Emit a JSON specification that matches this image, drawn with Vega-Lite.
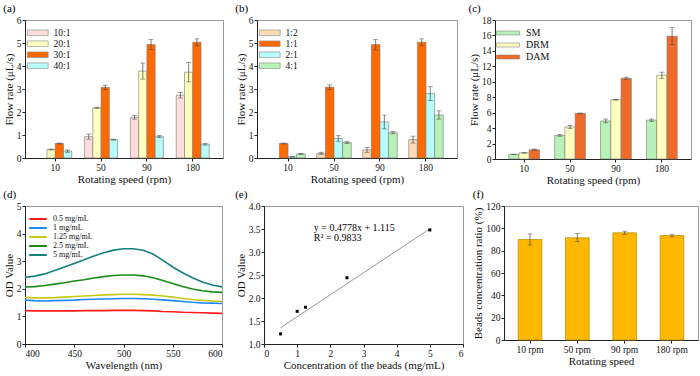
{
  "$schema": "https://vega.github.io/schema/vega-lite/v6.json",
  "padding": {"left": 2, "top": 2, "right": 2, "bottom": 1},
  "background": "white",
  "spacing": 2,
  "datasets": {
    "a": [
      {"speed": "10", "ratio": "20:1", "v": 0.37, "lo": 0.35, "hi": 0.39},
      {"speed": "10", "ratio": "30:1", "v": 0.63, "lo": 0.61, "hi": 0.65},
      {"speed": "10", "ratio": "40:1", "v": 0.30, "lo": 0.25, "hi": 0.35},
      {"speed": "50", "ratio": "10:1", "v": 0.93, "lo": 0.82, "hi": 1.04},
      {"speed": "50", "ratio": "20:1", "v": 2.18, "lo": 2.15, "hi": 2.21},
      {"speed": "50", "ratio": "30:1", "v": 3.07, "lo": 2.97, "hi": 3.17},
      {"speed": "50", "ratio": "40:1", "v": 0.80, "lo": 0.78, "hi": 0.82},
      {"speed": "90", "ratio": "10:1", "v": 1.77, "lo": 1.69, "hi": 1.85},
      {"speed": "90", "ratio": "20:1", "v": 3.78, "lo": 3.43, "hi": 4.13},
      {"speed": "90", "ratio": "30:1", "v": 4.93, "lo": 4.71, "hi": 5.15},
      {"speed": "90", "ratio": "40:1", "v": 0.93, "lo": 0.88, "hi": 0.98},
      {"speed": "180", "ratio": "10:1", "v": 2.73, "lo": 2.61, "hi": 2.85},
      {"speed": "180", "ratio": "20:1", "v": 3.73, "lo": 3.31, "hi": 4.15},
      {"speed": "180", "ratio": "30:1", "v": 5.03, "lo": 4.88, "hi": 5.18},
      {"speed": "180", "ratio": "40:1", "v": 0.60, "lo": 0.56, "hi": 0.64}
    ],
    "b": [
      {"speed": "10", "ratio": "1:1", "v": 0.63, "lo": 0.61, "hi": 0.65},
      {"speed": "10", "ratio": "2:1", "v": 0.05, "lo": 0.04, "hi": 0.06},
      {"speed": "10", "ratio": "4:1", "v": 0.18, "lo": 0.16, "hi": 0.20},
      {"speed": "50", "ratio": "1:2", "v": 0.20, "lo": 0.15, "hi": 0.25},
      {"speed": "50", "ratio": "1:1", "v": 3.08, "lo": 2.98, "hi": 3.18},
      {"speed": "50", "ratio": "2:1", "v": 0.85, "lo": 0.73, "hi": 0.97},
      {"speed": "50", "ratio": "4:1", "v": 0.67, "lo": 0.63, "hi": 0.71},
      {"speed": "90", "ratio": "1:2", "v": 0.35, "lo": 0.25, "hi": 0.45},
      {"speed": "90", "ratio": "1:1", "v": 4.93, "lo": 4.70, "hi": 5.16},
      {"speed": "90", "ratio": "2:1", "v": 1.57, "lo": 1.27, "hi": 1.87},
      {"speed": "90", "ratio": "4:1", "v": 1.10, "lo": 1.05, "hi": 1.15},
      {"speed": "180", "ratio": "1:2", "v": 0.80, "lo": 0.65, "hi": 0.95},
      {"speed": "180", "ratio": "1:1", "v": 5.03, "lo": 4.88, "hi": 5.18},
      {"speed": "180", "ratio": "2:1", "v": 2.80, "lo": 2.50, "hi": 3.10},
      {"speed": "180", "ratio": "4:1", "v": 1.87, "lo": 1.69, "hi": 2.05}
    ],
    "c": [
      {"speed": "10", "mode": "SM", "v": 0.60, "lo": 0.58, "hi": 0.62},
      {"speed": "10", "mode": "DRM", "v": 0.80, "lo": 0.75, "hi": 0.85},
      {"speed": "10", "mode": "DAM", "v": 1.20, "lo": 1.10, "hi": 1.30},
      {"speed": "50", "mode": "SM", "v": 3.05, "lo": 2.95, "hi": 3.15},
      {"speed": "50", "mode": "DRM", "v": 4.15, "lo": 3.95, "hi": 4.35},
      {"speed": "50", "mode": "DAM", "v": 5.90, "lo": 5.85, "hi": 5.95},
      {"speed": "90", "mode": "SM", "v": 4.93, "lo": 4.68, "hi": 5.18},
      {"speed": "90", "mode": "DRM", "v": 7.68, "lo": 7.63, "hi": 7.73},
      {"speed": "90", "mode": "DAM", "v": 10.45, "lo": 10.30, "hi": 10.60},
      {"speed": "180", "mode": "SM", "v": 5.03, "lo": 4.88, "hi": 5.18},
      {"speed": "180", "mode": "DRM", "v": 10.85, "lo": 10.45, "hi": 11.25},
      {"speed": "180", "mode": "DAM", "v": 15.90, "lo": 14.80, "hi": 17.00}
    ],
    "d": [
      {"w": 400, "c": "0.5 mg/mL", "od": 1.21}, {"w": 410, "c": "0.5 mg/mL", "od": 1.20}, {"w": 420, "c": "0.5 mg/mL", "od": 1.20}, {"w": 430, "c": "0.5 mg/mL", "od": 1.20}, {"w": 440, "c": "0.5 mg/mL", "od": 1.20}, {"w": 450, "c": "0.5 mg/mL", "od": 1.20}, {"w": 460, "c": "0.5 mg/mL", "od": 1.21}, {"w": 470, "c": "0.5 mg/mL", "od": 1.21}, {"w": 480, "c": "0.5 mg/mL", "od": 1.21}, {"w": 490, "c": "0.5 mg/mL", "od": 1.22}, {"w": 500, "c": "0.5 mg/mL", "od": 1.22}, {"w": 510, "c": "0.5 mg/mL", "od": 1.22}, {"w": 520, "c": "0.5 mg/mL", "od": 1.21}, {"w": 530, "c": "0.5 mg/mL", "od": 1.20}, {"w": 540, "c": "0.5 mg/mL", "od": 1.18}, {"w": 550, "c": "0.5 mg/mL", "od": 1.17}, {"w": 560, "c": "0.5 mg/mL", "od": 1.15}, {"w": 570, "c": "0.5 mg/mL", "od": 1.14}, {"w": 580, "c": "0.5 mg/mL", "od": 1.13}, {"w": 590, "c": "0.5 mg/mL", "od": 1.12}, {"w": 600, "c": "0.5 mg/mL", "od": 1.11},
      {"w": 400, "c": "1 mg/mL", "od": 1.59}, {"w": 410, "c": "1 mg/mL", "od": 1.57}, {"w": 420, "c": "1 mg/mL", "od": 1.56}, {"w": 430, "c": "1 mg/mL", "od": 1.57}, {"w": 440, "c": "1 mg/mL", "od": 1.58}, {"w": 450, "c": "1 mg/mL", "od": 1.59}, {"w": 460, "c": "1 mg/mL", "od": 1.61}, {"w": 470, "c": "1 mg/mL", "od": 1.62}, {"w": 480, "c": "1 mg/mL", "od": 1.63}, {"w": 490, "c": "1 mg/mL", "od": 1.64}, {"w": 500, "c": "1 mg/mL", "od": 1.65}, {"w": 510, "c": "1 mg/mL", "od": 1.65}, {"w": 520, "c": "1 mg/mL", "od": 1.64}, {"w": 530, "c": "1 mg/mL", "od": 1.62}, {"w": 540, "c": "1 mg/mL", "od": 1.60}, {"w": 550, "c": "1 mg/mL", "od": 1.57}, {"w": 560, "c": "1 mg/mL", "od": 1.54}, {"w": 570, "c": "1 mg/mL", "od": 1.51}, {"w": 580, "c": "1 mg/mL", "od": 1.49}, {"w": 590, "c": "1 mg/mL", "od": 1.48}, {"w": 600, "c": "1 mg/mL", "od": 1.47},
      {"w": 400, "c": "1.25 mg/mL", "od": 1.69}, {"w": 410, "c": "1.25 mg/mL", "od": 1.67}, {"w": 420, "c": "1.25 mg/mL", "od": 1.67}, {"w": 430, "c": "1.25 mg/mL", "od": 1.68}, {"w": 440, "c": "1.25 mg/mL", "od": 1.70}, {"w": 450, "c": "1.25 mg/mL", "od": 1.72}, {"w": 460, "c": "1.25 mg/mL", "od": 1.74}, {"w": 470, "c": "1.25 mg/mL", "od": 1.76}, {"w": 480, "c": "1.25 mg/mL", "od": 1.78}, {"w": 490, "c": "1.25 mg/mL", "od": 1.79}, {"w": 500, "c": "1.25 mg/mL", "od": 1.80}, {"w": 510, "c": "1.25 mg/mL", "od": 1.80}, {"w": 520, "c": "1.25 mg/mL", "od": 1.79}, {"w": 530, "c": "1.25 mg/mL", "od": 1.77}, {"w": 540, "c": "1.25 mg/mL", "od": 1.74}, {"w": 550, "c": "1.25 mg/mL", "od": 1.70}, {"w": 560, "c": "1.25 mg/mL", "od": 1.65}, {"w": 570, "c": "1.25 mg/mL", "od": 1.61}, {"w": 580, "c": "1.25 mg/mL", "od": 1.58}, {"w": 590, "c": "1.25 mg/mL", "od": 1.56}, {"w": 600, "c": "1.25 mg/mL", "od": 1.54},
      {"w": 400, "c": "2.5 mg/mL", "od": 2.07}, {"w": 410, "c": "2.5 mg/mL", "od": 2.08}, {"w": 420, "c": "2.5 mg/mL", "od": 2.12}, {"w": 430, "c": "2.5 mg/mL", "od": 2.17}, {"w": 440, "c": "2.5 mg/mL", "od": 2.22}, {"w": 450, "c": "2.5 mg/mL", "od": 2.28}, {"w": 460, "c": "2.5 mg/mL", "od": 2.33}, {"w": 470, "c": "2.5 mg/mL", "od": 2.39}, {"w": 480, "c": "2.5 mg/mL", "od": 2.44}, {"w": 490, "c": "2.5 mg/mL", "od": 2.48}, {"w": 500, "c": "2.5 mg/mL", "od": 2.50}, {"w": 510, "c": "2.5 mg/mL", "od": 2.50}, {"w": 520, "c": "2.5 mg/mL", "od": 2.47}, {"w": 530, "c": "2.5 mg/mL", "od": 2.40}, {"w": 540, "c": "2.5 mg/mL", "od": 2.30}, {"w": 550, "c": "2.5 mg/mL", "od": 2.19}, {"w": 560, "c": "2.5 mg/mL", "od": 2.08}, {"w": 570, "c": "2.5 mg/mL", "od": 1.99}, {"w": 580, "c": "2.5 mg/mL", "od": 1.93}, {"w": 590, "c": "2.5 mg/mL", "od": 1.89}, {"w": 600, "c": "2.5 mg/mL", "od": 1.87},
      {"w": 400, "c": "5 mg/mL", "od": 2.42}, {"w": 410, "c": "5 mg/mL", "od": 2.46}, {"w": 420, "c": "5 mg/mL", "od": 2.54}, {"w": 430, "c": "5 mg/mL", "od": 2.66}, {"w": 440, "c": "5 mg/mL", "od": 2.79}, {"w": 450, "c": "5 mg/mL", "od": 2.92}, {"w": 460, "c": "5 mg/mL", "od": 3.05}, {"w": 470, "c": "5 mg/mL", "od": 3.19}, {"w": 480, "c": "5 mg/mL", "od": 3.31}, {"w": 490, "c": "5 mg/mL", "od": 3.40}, {"w": 500, "c": "5 mg/mL", "od": 3.45}, {"w": 510, "c": "5 mg/mL", "od": 3.45}, {"w": 520, "c": "5 mg/mL", "od": 3.40}, {"w": 530, "c": "5 mg/mL", "od": 3.26}, {"w": 540, "c": "5 mg/mL", "od": 3.03}, {"w": 550, "c": "5 mg/mL", "od": 2.79}, {"w": 560, "c": "5 mg/mL", "od": 2.58}, {"w": 570, "c": "5 mg/mL", "od": 2.40}, {"w": 580, "c": "5 mg/mL", "od": 2.25}, {"w": 590, "c": "5 mg/mL", "od": 2.14}, {"w": 600, "c": "5 mg/mL", "od": 2.07}
    ],
    "e": [
      {"conc": 0.5, "od": 1.22}, {"conc": 1.0, "od": 1.71}, {"conc": 1.25, "od": 1.80}, {"conc": 2.5, "od": 2.44}, {"conc": 5.0, "od": 3.48}
    ],
    "efit": [
      {"conc": 0.5, "od": 1.354}, {"conc": 5.0, "od": 3.504}
    ],
    "etext": [
      {"conc": 1.5, "od": 3.53, "label": "y = 0.4778x + 1.115"},
      {"conc": 1.5, "od": 3.3, "label": "R² = 0.9833"}
    ],
    "f": [
      {"speed": "10 rpm", "v": 90.0, "lo": 85.0, "hi": 95.0},
      {"speed": "50 rpm", "v": 91.5, "lo": 88.0, "hi": 95.5},
      {"speed": "90 rpm", "v": 96.0, "lo": 94.5, "hi": 97.5},
      {"speed": "180 rpm", "v": 93.5, "lo": 92.3, "hi": 94.7}
    ]
  },
  "vconcat": [
    {
      "spacing": 10,
      "resolve": {"scale": {"x": "independent", "y": "independent", "xOffset": "independent", "color": "independent"}, "legend": {"color": "independent"}},
      "hconcat": [
        {
          "title": {"text": "(a)"},
          "width": 198, "height": 138,
          "data": {"name": "a"},
          "encoding": {
            "x": {"field": "speed", "type": "nominal", "sort": ["10", "50", "90", "180"], "title": "Rotating speed (rpm)", "scale": {"paddingInner": 0.28, "paddingOuter": 0.3}},
            "xOffset": {"field": "ratio", "type": "nominal", "sort": ["10:1", "20:1", "30:1", "40:1"], "scale": {"domain": ["10:1", "20:1", "30:1", "40:1"], "paddingInner": 0}}
          },
          "layer": [
            {"mark": {"type": "bar", "stroke": "#777", "strokeWidth": 0.6},
             "encoding": {
               "y": {"field": "v", "type": "quantitative", "title": "Flow rate (μL/s)", "scale": {"domain": [0, 6]}, "axis": {"values": [0, 1, 2, 3, 4, 5, 6], "labelOverlap": false}},
               "color": {"field": "ratio", "type": "nominal", "title": null, "scale": {"domain": ["10:1", "20:1", "30:1", "40:1"], "range": ["#FFDDDD", "#FFFFC0", "#FF6A00", "#B8FBFB"]},
                 "legend": {"orient": "top-left", "offset": 8, "symbolType": "M-2.6,-0.7H2.6V0.7H-2.6Z", "symbolSize": 64, "labelOffset": 11, "symbolStrokeColor": "#888", "symbolStrokeWidth": 0.6, "labelFontSize": 9.5, "rowPadding": 0}}
             }},
            {"mark": {"type": "rule", "color": "#444", "strokeWidth": 0.7},
             "encoding": {"y": {"field": "lo", "type": "quantitative", "title": "Flow rate (μL/s)", "axis": {"values": [0, 1, 2, 3, 4, 5, 6], "labelOverlap": false}}, "y2": {"field": "hi"}}},
            {"mark": {"type": "tick", "color": "#444", "thickness": 0.7, "size": 5},
             "encoding": {"y": {"field": "lo", "type": "quantitative", "title": "Flow rate (μL/s)", "axis": {"values": [0, 1, 2, 3, 4, 5, 6], "labelOverlap": false}}}},
            {"mark": {"type": "tick", "color": "#444", "thickness": 0.7, "size": 5},
             "encoding": {"y": {"field": "hi", "type": "quantitative", "title": "Flow rate (μL/s)", "axis": {"values": [0, 1, 2, 3, 4, 5, 6], "labelOverlap": false}}}}
          ]
        },
        {
          "title": {"text": "(b)"},
          "width": 200, "height": 138,
          "data": {"name": "b"},
          "encoding": {
            "x": {"field": "speed", "type": "nominal", "sort": ["10", "50", "90", "180"], "title": "Rotating speed (rpm)", "scale": {"paddingInner": 0.25, "paddingOuter": 0.3}},
            "xOffset": {"field": "ratio", "type": "nominal", "sort": ["1:2", "1:1", "2:1", "4:1"], "scale": {"domain": ["1:2", "1:1", "2:1", "4:1"], "paddingInner": 0}}
          },
          "layer": [
            {"mark": {"type": "bar", "stroke": "#777", "strokeWidth": 0.6},
             "encoding": {
               "y": {"field": "v", "type": "quantitative", "title": "Flow rate (μL/s)", "scale": {"domain": [0, 6]}, "axis": {"values": [0, 1, 2, 3, 4, 5, 6], "labelOverlap": false}},
               "color": {"field": "ratio", "type": "nominal", "title": null, "scale": {"domain": ["1:2", "1:1", "2:1", "4:1"], "range": ["#FDDCB5", "#FF6A00", "#B8FBFB", "#B8F2B8"]},
                 "legend": {"orient": "top-left", "offset": 8, "symbolType": "M-2.6,-0.7H2.6V0.7H-2.6Z", "symbolSize": 64, "labelOffset": 11, "symbolStrokeColor": "#888", "symbolStrokeWidth": 0.6, "labelFontSize": 9.5, "rowPadding": 0}}
             }},
            {"mark": {"type": "rule", "color": "#444", "strokeWidth": 0.7},
             "encoding": {"y": {"field": "lo", "type": "quantitative", "title": "Flow rate (μL/s)", "axis": {"values": [0, 1, 2, 3, 4, 5, 6], "labelOverlap": false}}, "y2": {"field": "hi"}}},
            {"mark": {"type": "tick", "color": "#444", "thickness": 0.7, "size": 5},
             "encoding": {"y": {"field": "lo", "type": "quantitative", "title": "Flow rate (μL/s)", "axis": {"values": [0, 1, 2, 3, 4, 5, 6], "labelOverlap": false}}}},
            {"mark": {"type": "tick", "color": "#444", "thickness": 0.7, "size": 5},
             "encoding": {"y": {"field": "hi", "type": "quantitative", "title": "Flow rate (μL/s)", "axis": {"values": [0, 1, 2, 3, 4, 5, 6], "labelOverlap": false}}}}
          ]
        },
        {
          "title": {"text": "(c)"},
          "width": 196, "height": 139,
          "data": {"name": "c"},
          "encoding": {
            "x": {"field": "speed", "type": "nominal", "sort": ["10", "50", "90", "180"], "title": "Rotating speed (rpm)", "scale": {"paddingInner": 0.33, "paddingOuter": 0.3}},
            "xOffset": {"field": "mode", "type": "nominal", "sort": ["SM", "DRM", "DAM"], "scale": {"domain": ["SM", "DRM", "DAM"], "paddingInner": 0}}
          },
          "layer": [
            {"mark": {"type": "bar", "stroke": "#777", "strokeWidth": 0.6},
             "encoding": {
               "y": {"field": "v", "type": "quantitative", "title": "Flow rate (μL/s)", "scale": {"domain": [0, 18]}, "axis": {"values": [0, 2, 4, 6, 8, 10, 12, 14, 16, 18], "labelOverlap": false}},
               "color": {"field": "mode", "type": "nominal", "title": null, "scale": {"domain": ["SM", "DRM", "DAM"], "range": ["#B8F2B8", "#FFFFC0", "#F06A2A"]},
                 "legend": {"orient": "top-left", "offset": 8, "symbolType": "M-2.9,-0.5H2.9V0.5H-2.9Z", "symbolSize": 64, "labelOffset": 13, "symbolStrokeColor": "#888", "symbolStrokeWidth": 0.6, "labelFontSize": 10, "rowPadding": 2}}
             }},
            {"mark": {"type": "rule", "color": "#444", "strokeWidth": 0.7},
             "encoding": {"y": {"field": "lo", "type": "quantitative", "title": "Flow rate (μL/s)", "axis": {"values": [0, 2, 4, 6, 8, 10, 12, 14, 16, 18], "labelOverlap": false}}, "y2": {"field": "hi"}}},
            {"mark": {"type": "tick", "color": "#444", "thickness": 0.7, "size": 5},
             "encoding": {"y": {"field": "lo", "type": "quantitative", "title": "Flow rate (μL/s)", "axis": {"values": [0, 2, 4, 6, 8, 10, 12, 14, 16, 18], "labelOverlap": false}}}},
            {"mark": {"type": "tick", "color": "#444", "thickness": 0.7, "size": 5},
             "encoding": {"y": {"field": "hi", "type": "quantitative", "title": "Flow rate (μL/s)", "axis": {"values": [0, 2, 4, 6, 8, 10, 12, 14, 16, 18], "labelOverlap": false}}}}
          ]
        }
      ]
    },
    {
      "spacing": 8,
      "resolve": {"scale": {"x": "independent", "y": "independent", "color": "independent"}, "legend": {"color": "independent"}},
      "hconcat": [
        {
          "title": {"text": "(d)"},
          "width": 197, "height": 138,
          "data": {"name": "d"},
          "mark": {"type": "line", "strokeWidth": 1.6},
          "encoding": {
            "x": {"field": "w", "type": "quantitative", "title": "Wavelength (nm)", "scale": {"domain": [400, 600], "nice": false}, "axis": {"values": [400, 450, 500, 550, 600], "labelOverlap": false}},
            "y": {"field": "od", "type": "quantitative", "title": "OD Value", "scale": {"domain": [0, 5]}, "axis": {"values": [0, 1, 2, 3, 4, 5], "labelOverlap": false}},
            "color": {"field": "c", "type": "nominal", "title": null, "sort": ["0.5 mg/mL", "1 mg/mL", "1.25 mg/mL", "2.5 mg/mL", "5 mg/mL"],
              "scale": {"domain": ["0.5 mg/mL", "1 mg/mL", "1.25 mg/mL", "2.5 mg/mL", "5 mg/mL"], "range": ["#FF1A1A", "#1E88FF", "#C8C814", "#1A8A1A", "#138080"]},
              "legend": {"orient": "top-left", "offset": 8, "symbolType": "M-2.2,0H2.2", "symbolSize": 64, "symbolStrokeWidth": 2, "labelOffset": 10, "labelFontSize": 8, "rowPadding": 0}}
          }
        },
        {
          "title": {"text": "(e)"},
          "width": 199, "height": 138,
          "layer": [
            {"data": {"name": "efit"}, "mark": {"type": "line", "color": "#999", "strokeWidth": 1},
             "encoding": {
               "x": {"field": "conc", "type": "quantitative", "title": "Concentration of the beads (mg/mL)", "scale": {"domain": [0, 6], "nice": false}, "axis": {"values": [0, 1, 2, 3, 4, 5, 6], "labelOverlap": false}},
               "y": {"field": "od", "type": "quantitative", "title": "OD Value", "scale": {"domain": [1, 4], "nice": false, "zero": false}, "axis": {"values": [1, 1.5, 2, 2.5, 3, 3.5, 4], "format": ".1f", "labelOverlap": false}}
             }},
            {"data": {"name": "e"}, "mark": {"type": "square", "color": "black", "size": 9, "opacity": 1},
             "encoding": {
               "x": {"field": "conc", "type": "quantitative", "title": "Concentration of the beads (mg/mL)", "axis": {"values": [0, 1, 2, 3, 4, 5, 6], "labelOverlap": false}},
               "y": {"field": "od", "type": "quantitative", "title": "OD Value", "axis": {"values": [1, 1.5, 2, 2.5, 3, 3.5, 4], "format": ".1f", "labelOverlap": false}}
             }},
            {"data": {"name": "etext"}, "mark": {"type": "text", "align": "left", "baseline": "middle", "fontSize": 10, "font": "Liberation Serif", "color": "black"},
             "encoding": {
               "x": {"field": "conc", "type": "quantitative", "title": "Concentration of the beads (mg/mL)", "axis": {"values": [0, 1, 2, 3, 4, 5, 6], "labelOverlap": false}},
               "y": {"field": "od", "type": "quantitative", "title": "OD Value", "axis": {"values": [1, 1.5, 2, 2.5, 3, 3.5, 4], "format": ".1f", "labelOverlap": false}},
               "text": {"field": "label"}
             }}
          ]
        },
        {
          "title": {"text": "(f)"},
          "width": 194, "height": 134,
          "data": {"name": "f"},
          "encoding": {
            "x": {"field": "speed", "type": "nominal", "sort": ["10 rpm", "50 rpm", "90 rpm", "180 rpm"], "title": "Rotating speed", "scale": {"paddingInner": 0.5, "paddingOuter": 0.3}}
          },
          "layer": [
            {"mark": {"type": "bar", "color": "#FFB800", "stroke": "#B88A00", "strokeWidth": 0.7},
             "encoding": {"y": {"field": "v", "type": "quantitative", "title": "Beads concentration ratio (%)", "scale": {"domain": [0, 120]}, "axis": {"values": [0, 20, 40, 60, 80, 100, 120], "labelOverlap": false}}}},
            {"mark": {"type": "rule", "color": "#444", "strokeWidth": 0.7},
             "encoding": {"y": {"field": "lo", "type": "quantitative", "title": "Beads concentration ratio (%)", "axis": {"values": [0, 20, 40, 60, 80, 100, 120], "labelOverlap": false}}, "y2": {"field": "hi"}}},
            {"mark": {"type": "tick", "color": "#444", "thickness": 0.7, "size": 5},
             "encoding": {"y": {"field": "lo", "type": "quantitative", "title": "Beads concentration ratio (%)", "axis": {"values": [0, 20, 40, 60, 80, 100, 120], "labelOverlap": false}}}},
            {"mark": {"type": "tick", "color": "#444", "thickness": 0.7, "size": 5},
             "encoding": {"y": {"field": "hi", "type": "quantitative", "title": "Beads concentration ratio (%)", "axis": {"values": [0, 20, 40, 60, 80, 100, 120], "labelOverlap": false}}}}
          ]
        }
      ]
    }
  ],
  "config": {
    "font": "Liberation Serif",
    "view": {"stroke": "#999", "strokeWidth": 1},
    "title": {"anchor": "start", "frame": "bounds", "fontSize": 11, "fontWeight": "normal", "font": "Liberation Serif", "color": "black", "offset": 1},
    "axis": {"grid": false, "labelOverlap": false, "domainColor": "#222", "tickColor": "#222", "labelColor": "#111", "titleColor": "#111", "labelFont": "Liberation Serif", "titleFont": "Liberation Serif", "labelFontSize": 9.5, "titleFontSize": 11, "titleFontWeight": "normal", "tickSize": 3, "labelPadding": 1, "titlePadding": 2},
    "axisX": {"labelAngle": 0},
    "axisBand": {"tickSize": 3},
    "legend": {"labelFont": "Liberation Serif", "labelColor": "#111", "padding": 0},
    "bar": {"opacity": 1}
  }
}
